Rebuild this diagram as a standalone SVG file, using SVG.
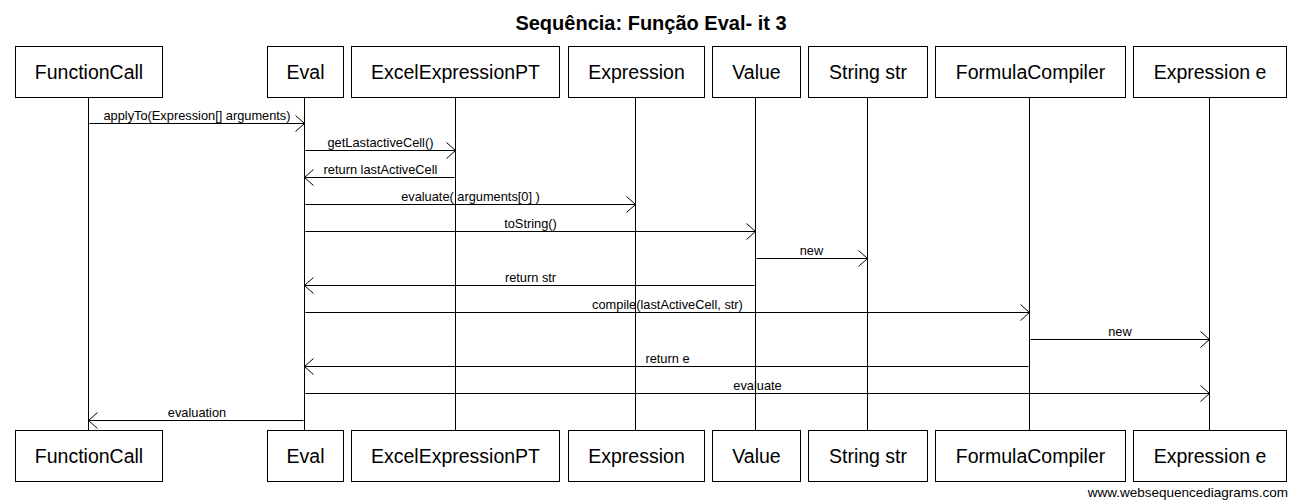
<svg xmlns="http://www.w3.org/2000/svg" width="1299" height="503" viewBox="0 0 1299 503">
<style>
.box{fill:#fff;stroke:#000;stroke-width:1}
.life{stroke:#000;stroke-width:1}
.pl{font-family:"Liberation Sans",Arial,sans-serif;font-size:19.5px;text-anchor:middle;fill:#000}
.msg{stroke:#000;stroke-width:1;fill:none;marker-end:url(#arr)}
.ml{font-family:"Liberation Sans",Arial,sans-serif;font-size:12.8px;text-anchor:middle;fill:#000}
.title{font-family:"Liberation Sans",Arial,sans-serif;font-size:20px;font-weight:bold;text-anchor:middle;fill:#000}
.wm{font-family:"Liberation Sans",Arial,sans-serif;font-size:13.5px;text-anchor:end;fill:#000}
</style>
<defs>
<marker id="arr" markerUnits="userSpaceOnUse" markerWidth="20" markerHeight="20" viewBox="-10 -10 20 20" refX="0" refY="0" orient="auto" overflow="visible">
<path d="M-9,-8 L0,0 L-9,8" fill="none" stroke="#000" stroke-width="1"/>
</marker>
</defs>
<rect width="1299" height="503" fill="#fff"/>
<text class="title" x="651" y="30">Sequência: Função Eval- it 3</text>
<g id="lifelines">
<line class="life" x1="88.5" y1="97.5" x2="88.5" y2="430.5"/>
<line class="life" x1="304.5" y1="97.5" x2="304.5" y2="430.5"/>
<line class="life" x1="455.5" y1="97.5" x2="455.5" y2="430.5"/>
<line class="life" x1="635.5" y1="97.5" x2="635.5" y2="430.5"/>
<line class="life" x1="755.5" y1="97.5" x2="755.5" y2="430.5"/>
<line class="life" x1="867.5" y1="97.5" x2="867.5" y2="430.5"/>
<line class="life" x1="1029.5" y1="97.5" x2="1029.5" y2="430.5"/>
<line class="life" x1="1209.5" y1="97.5" x2="1209.5" y2="430.5"/>
</g>
<g id="FunctionCall">
<rect class="box" x="15.5" y="46.5" width="147" height="51"/><text class="pl" x="89" y="79">FunctionCall</text>
<rect class="box" x="15.5" y="430.5" width="147" height="51"/><text class="pl" x="89" y="463">FunctionCall</text>
</g>
<g id="Eval">
<rect class="box" x="267.5" y="46.5" width="76" height="51"/><text class="pl" x="305.5" y="79">Eval</text>
<rect class="box" x="267.5" y="430.5" width="76" height="51"/><text class="pl" x="305.5" y="463">Eval</text>
</g>
<g id="ExcelExpressionPT">
<rect class="box" x="351.5" y="46.5" width="208" height="51"/><text class="pl" x="455.5" y="79">ExcelExpressionPT</text>
<rect class="box" x="351.5" y="430.5" width="208" height="51"/><text class="pl" x="455.5" y="463">ExcelExpressionPT</text>
</g>
<g id="Expression">
<rect class="box" x="568.5" y="46.5" width="136" height="51"/><text class="pl" x="636.5" y="79">Expression</text>
<rect class="box" x="568.5" y="430.5" width="136" height="51"/><text class="pl" x="636.5" y="463">Expression</text>
</g>
<g id="Value">
<rect class="box" x="712.5" y="46.5" width="88" height="51"/><text class="pl" x="756.5" y="79">Value</text>
<rect class="box" x="712.5" y="430.5" width="88" height="51"/><text class="pl" x="756.5" y="463">Value</text>
</g>
<g id="StringStr">
<rect class="box" x="808.5" y="46.5" width="119" height="51"/><text class="pl" x="868" y="79">String str</text>
<rect class="box" x="808.5" y="430.5" width="119" height="51"/><text class="pl" x="868" y="463">String str</text>
</g>
<g id="FormulaCompiler">
<rect class="box" x="935.5" y="46.5" width="190" height="51"/><text class="pl" x="1030.5" y="79">FormulaCompiler</text>
<rect class="box" x="935.5" y="430.5" width="190" height="51"/><text class="pl" x="1030.5" y="463">FormulaCompiler</text>
</g>
<g id="ExpressionE">
<rect class="box" x="1133.5" y="46.5" width="153" height="51"/><text class="pl" x="1210" y="79">Expression e</text>
<rect class="box" x="1133.5" y="430.5" width="153" height="51"/><text class="pl" x="1210" y="463">Expression e</text>
</g>
<g id="connectors">
<line class="msg" x1="89.5" y1="123.5" x2="304.5" y2="123.5"/><text class="ml" x="197" y="119.5">applyTo(Expression[] arguments)</text>
<line class="msg" x1="305.5" y1="150.5" x2="455.5" y2="150.5"/><text class="ml" x="380.5" y="146.5">getLastactiveCell()</text>
<line class="msg" x1="454.5" y1="177.5" x2="304.5" y2="177.5"/><text class="ml" x="380.5" y="173.5">return lastActiveCell</text>
<line class="msg" x1="305.5" y1="204.5" x2="635.5" y2="204.5"/><text class="ml" x="470.5" y="200.5">evaluate( arguments[0] )</text>
<line class="msg" x1="305.5" y1="231.5" x2="755.5" y2="231.5"/><text class="ml" x="530.5" y="227.5">toString()</text>
<line class="msg" x1="756.5" y1="258.5" x2="867.5" y2="258.5"/><text class="ml" x="811.5" y="254.5">new</text>
<line class="msg" x1="754.5" y1="285.5" x2="304.5" y2="285.5"/><text class="ml" x="530.5" y="281.5">return str</text>
<line class="msg" x1="305.5" y1="312.5" x2="1029.5" y2="312.5"/><text class="ml" x="667.5" y="308.5">compile(lastActiveCell, str)</text>
<line class="msg" x1="1030.5" y1="339.5" x2="1209.5" y2="339.5"/><text class="ml" x="1120" y="335.5">new</text>
<line class="msg" x1="1028.5" y1="366.5" x2="304.5" y2="366.5"/><text class="ml" x="667.5" y="362.5">return e</text>
<line class="msg" x1="305.5" y1="393.5" x2="1209.5" y2="393.5"/><text class="ml" x="757.5" y="389.5">evaluate</text>
<line class="msg" x1="303.5" y1="420.5" x2="88.5" y2="420.5"/><text class="ml" x="197" y="416.5">evaluation</text>
</g>
<text class="wm" x="1288" y="497">www.websequencediagrams.com</text>
</svg>
